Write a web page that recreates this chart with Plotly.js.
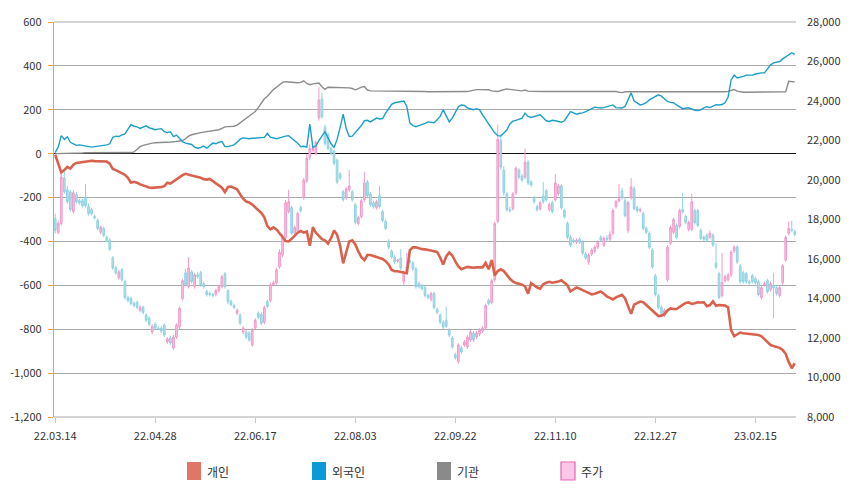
<!DOCTYPE html>
<html><head><meta charset="utf-8">
<script src="https://cdn.plot.ly/plotly-3.0.1.min.js"></script>
<style>html,body{margin:0;padding:0;background:#fff;}#chart{width:859px;height:493px;}</style>
</head><body><div id="chart"></div>
<script>
const tickLabels = ['22.03.14','22.04.28','22.06.17','22.08.03','22.09.22','22.11.10','22.12.27','23.02.15'];
const tickStep = 33;

const individual = [
-5,-50,-85,-75,-60,-68,-50,-42,-40,-38,
-35,-33,-32,-34,-35,-36,-34,-36,-45,-70,
-75,-82,-88,-96,-110,-132,-128,-132,-140,-145,
-150,-154,-156,-155,-155,-152,-148,-132,-136,-126,
-116,-104,-98,-92,-97,-100,-103,-105,-110,-116,
-118,-115,-125,-138,-145,-155,-175,-152,-150,-155,
-162,-185,-205,-218,-222,-232,-245,-258,-270,-290,
-330,-345,-336,-345,-365,-380,-398,-400,-388,-372,
-360,-352,-360,-355,-420,-335,-360,-375,-390,-395,
-410,-385,-350,-370,-420,-500,-450,-400,-395,-414,
-445,-472,-485,-462,-462,-466,-470,-473,-480,-490,
-505,-530,-536,-536,-538,-541,-545,-440,-427,-427,
-432,-435,-436,-440,-441,-445,-448,-473,-505,-468,
-450,-464,-491,-514,-527,-520,-516,-518,-520,-518,
-519,-518,-498,-527,-485,-555,-535,-527,-535,-555,
-570,-582,-590,-593,-597,-605,-638,-590,-600,-610,
-615,-595,-588,-584,-588,-586,-583,-577,-588,-600,
-628,-620,-610,-615,-622,-630,-635,-641,-638,-633,
-628,-638,-650,-657,-664,-655,-650,-643,-660,-700,
-730,-688,-680,-674,-677,-690,-700,-712,-725,-740,
-738,-732,-715,-705,-708,-708,-698,-688,-680,-678,
-685,-682,-677,-678,-677,-695,-690,-673,-693,-690,
-690,-692,-700,-805,-832,-825,-815,-818,-820,-820,
-823,-825,-826,-832,-845,-858,-872,-876,-880,-885,
-895,-912,-950,-978,-955];

const foreign = [
5,30,82,65,77,52,45,38,40,38,
34,32,30,32,35,36,38,40,45,75,
80,78,86,90,110,132,125,122,115,122,
127,118,112,109,112,114,100,96,100,78,
85,70,55,48,45,42,30,25,28,35,
25,38,48,45,52,55,32,32,36,40,
52,66,72,70,68,70,72,73,73,74,
92,75,73,68,72,77,80,82,72,60,
48,32,34,30,135,28,35,60,80,100,
72,45,28,65,120,180,115,78,80,95,
110,128,150,152,145,155,162,158,160,185,
205,225,232,235,236,240,215,140,128,123,
128,132,138,145,142,141,155,170,200,175,
145,162,185,214,222,220,209,203,200,205,
200,177,158,138,115,95,82,80,92,108,
135,148,152,156,162,185,170,165,168,172,
177,164,150,147,152,150,145,143,150,170,
192,186,180,184,186,192,200,206,212,210,
208,210,213,216,222,210,208,208,215,245,
277,240,230,222,226,232,245,252,259,268,
262,252,238,234,232,222,212,205,207,209,
204,198,196,200,209,214,210,218,223,222,
224,232,258,336,358,345,348,352,358,357,
358,363,367,368,368,385,405,414,416,420,
432,442,450,460,452];

const institution = [
0,0,1,2,2,3,3,3,3,3,
4,4,3,3,3,4,5,5,4,4,
4,4,5,5,5,5,8,20,32,38,
42,46,48,50,50,51,52,52,53,54,
55,56,60,68,80,86,90,94,96,98,
100,101,103,106,109,115,122,123,124,125,
130,140,150,160,170,180,192,210,232,250,
262,278,292,303,315,325,328,327,324,323,
323,325,332,320,314,318,320,322,305,293,
303,303,300,300,300,300,300,300,297,291,
296,303,306,290,286,286,285,285,285,285,
284,284,284,284,284,283,283,283,283,283,
283,283,283,282,282,282,282,282,282,282,
282,282,282,282,282,282,283,286,290,292,
292,292,292,291,286,283,283,288,293,295,
293,292,291,290,286,290,285,284,283,283,
283,283,283,283,283,283,283,283,283,283,
283,283,283,283,283,283,283,283,283,283,
283,283,284,285,286,284,280,278,282,282,
282,282,281,281,281,280,280,280,280,280,
280,280,280,280,280,280,280,280,280,280,
280,280,280,280,280,280,280,280,280,281,
281,282,284,288,292,285,281,280,280,280,
280,280,280,280,280,280,280,280,280,280,
280,282,330,328,327];

const priceOpen = [
18050,17350,17800,20100,19500,19400,18400,19250,18950,18950,
19100,18650,18500,18150,17950,17350,17550,17100,16950,16050,
15550,15050,15450,14850,14050,14000,13750,13800,13400,13550,
13150,13000,12300,12700,12500,12500,12650,11800,12000,11500,
12050,12550,14000,15300,14600,15350,14600,15200,15300,14750,
14350,14250,14200,14200,14400,14600,15250,14400,13850,13650,
13250,13150,12300,12300,12250,11650,12500,13250,13200,12800,
13850,13900,14700,14800,15600,16200,17100,18400,18600,17300,
17400,18600,19100,19950,21150,21500,21350,23150,24100,22650,
22300,21600,21450,21000,20300,19400,19100,19500,19400,18750,
17800,18150,19000,19900,19300,18850,18600,19200,18400,17900,
16900,16400,16100,15900,16050,14850,15350,15900,15800,15500,
14750,14650,14550,14150,13950,14250,13450,13150,12800,12900,
12400,12000,11150,10800,11500,11650,11550,11900,12250,12050,
12200,12350,12500,13900,13800,14950,17900,22000,20500,19300,
18500,18550,19350,20500,20200,20150,20900,19900,19100,18650,
18550,19200,19450,18500,18850,19000,19300,19700,18450,17800,
17100,16950,16850,17000,16850,16250,15850,16250,16400,16600,
17100,16700,17050,17000,17300,18650,18950,19450,18950,17450,
19100,19550,18600,18450,18300,17550,17300,16450,15150,14150,
13550,13150,14950,16800,17350,17700,17650,18500,18150,17500,
17500,18450,18450,17450,17100,17200,17100,17200,15800,15250,
14150,14900,14950,15200,16400,16600,15650,15300,15250,14850,
15150,15000,14850,14050,14700,14900,14450,14650,14550,14150,
14800,15950,17300,17500,17400];

const priceHigh = [
18300,17950,20450,20500,19700,19500,19500,19400,19050,19050,
19800,18800,18600,18250,18050,17700,17650,17200,17050,16150,
15650,15450,15550,14950,14150,14100,13850,13900,13650,13650,
13250,13100,12700,12800,12600,12600,12750,12050,12100,12150,
12750,13600,15000,15500,16100,15450,15300,15350,15400,14850,
14450,14350,14300,14500,14700,15200,15350,14450,13950,13750,
13500,13250,12600,12400,12350,12500,13000,13350,13300,13650,
13950,14800,14900,15550,16500,17250,19000,19500,18700,17700,
18400,18700,20100,21300,21800,21750,22000,24700,24400,22800,
22400,21700,21550,21100,20400,19500,19650,20500,19500,18850,
18200,19050,20400,20000,19400,18950,19000,19700,18500,18000,
17000,16500,16200,16000,16500,15400,16300,16000,15900,15600,
14850,14750,14650,14250,14350,14350,13550,13250,12900,13600,
12500,12100,11250,11750,11600,11900,12150,12400,12350,12350,
12500,12600,13750,14000,15000,17900,22800,22300,20700,19400,
18650,19400,20700,20600,20300,21600,21000,20000,19200,18750,
18950,19900,19550,18850,18950,20300,19800,19800,18550,17900,
17200,17050,17050,17100,16950,16350,16300,16550,16700,16950,
17200,17150,17200,17400,18550,19000,19800,19600,19100,18950,
20100,19700,18700,18600,18400,17650,17400,16550,15250,14250,
13650,13500,16700,17700,18100,17800,18550,19350,18250,17950,
19300,18550,18550,17550,17200,17300,17450,17300,16800,15350,
16300,15200,15300,16450,16700,16700,15750,15400,15350,14950,
15250,15100,14950,14650,14850,15000,14850,15300,14650,14650,
15750,17200,17900,17950,17500];

const priceLow = [
17300,17250,17700,19300,18800,18400,18300,18800,18750,18600,
18600,18200,18200,18000,17450,17250,17100,16850,16400,15450,
15200,14950,14850,13950,13800,13650,13550,13450,13300,13200,
12800,12600,12200,12400,12400,12250,12050,11700,11650,11400,
11950,12450,13900,14600,14500,14750,14500,15000,14600,14500,
14100,14100,14050,14100,14300,14500,14500,13700,13600,13450,
13150,12650,12200,11950,11800,11550,12400,12950,12650,12700,
13500,13800,14600,14700,15500,16100,17000,18300,17200,17200,
17300,18350,19000,19850,21000,21400,21250,23000,23100,21750,
21500,21250,20750,19800,20000,18900,19000,19400,18900,17750,
17700,18050,18900,19100,18650,18550,18500,18550,17850,17450,
16500,16000,15750,15800,15450,14650,15250,15750,15400,14500,
14500,14400,14050,13950,13850,13450,13200,12700,12450,12500,
12050,11450,10900,10700,11200,11550,11450,11800,11800,11950,
12100,12250,12400,13650,13700,14850,17800,20500,19200,18400,
18350,18450,19250,20050,19900,20050,19750,19650,18800,18400,
18450,18800,18900,18400,18300,18900,19200,18500,18050,17000,
16600,16800,16750,16750,16200,15950,15700,16150,16300,16500,
16850,16600,16900,16900,17200,18550,18850,19000,18100,17300,
19000,18450,18350,18350,17450,17250,16500,15500,14100,13450,
13150,13050,14850,16700,17250,17000,17550,18300,17750,17400,
17400,17750,17600,16950,16900,16850,17000,16600,15500,13950,
14050,14800,14850,15100,16300,15750,14750,14750,14750,14700,
14750,14700,14100,13950,14600,14250,14350,13000,14150,14050,
14700,15850,17200,17350,17150];

const priceClose = [
17450,17800,20150,19400,18900,18500,19350,18900,18850,18700,
18700,18300,18300,18100,17550,17600,17200,16950,16500,15550,
15300,15350,14950,14050,13900,13750,13650,13550,13550,13300,
12900,12700,12600,12500,12480,12350,12150,11950,11750,12050,
12650,13500,14900,14700,15550,14850,15200,15100,14700,14600,
14200,14200,14150,14400,14600,15100,14600,13850,13700,13550,
13400,12750,12500,12050,11900,12400,12900,13050,12750,13550,
13600,14700,14800,15450,16350,17100,18850,18900,17300,17600,
18300,18450,20000,21100,21600,21600,21900,24050,23200,21850,
21600,21350,20850,19900,20100,19000,19550,19700,19000,17850,
18100,18950,19850,19200,18750,18650,18900,18650,17950,17550,
16600,16100,15850,15950,15550,15300,15600,15850,15500,14600,
14600,14500,14150,14050,14250,13550,13300,12800,12550,12600,
12150,11550,11000,11650,11300,11800,12050,12300,11900,12250,
12400,12500,13650,13750,14900,17800,22050,20650,19350,18500,
18450,19300,20600,20150,20000,20900,19850,19750,18900,18500,
18850,18900,19000,18750,18400,19850,19700,18600,18150,17100,
16700,16900,16950,16850,16300,16050,16200,16450,16600,16850,
16950,17050,17000,17250,18450,18900,19050,19100,18200,18850,
19650,18550,18450,18500,17550,17350,16600,15600,14200,13550,
13250,13400,16600,17600,18000,17100,18450,18400,17850,17850,
18900,17850,17700,17050,17000,16950,17300,16700,15600,14050,
14800,15100,15200,16350,16600,15850,14850,14850,14850,14800,
14850,14800,14200,14550,14750,14350,14750,14550,14250,14550,
15650,17100,17550,17450,17250];

const leftTickVals = [600,400,200,0,-200,-400,-600,-800,-1000,-1200];
const leftTickText = ['600','400','200','0','-200','-400','-600','-800','-1,000','-1,200'];
const rightTickVals = [28000,26000,24000,22000,20000,18000,16000,14000,12000,10000,8000];
const rightTickText = ['28,000','26,000','24,000','22,000','20,000','18,000','16,000','14,000','12,000','10,000','8,000'];

const legendNames = ['개인','외국인','기관','주가'];
const legendColors = ['#e07665','#0a9bd6','#8a8a8a','#fcc6e6'];
const legendBorders = ['#e07665','#0a9bd6','#8a8a8a','#e266b5'];

const idx = priceClose.map((_, i) => i);
const FONT = '"Noto Sans CJK KR", "Noto Sans", sans-serif';
const GRID = '#a9a9a9';

const traces = [
  {type:'candlestick', x: idx, open: priceOpen, high: priceHigh, low: priceLow, close: priceClose,
   xaxis:'x', yaxis:'y', name:'주가', whiskerwidth:0, hoverinfo:'skip',
   increasing:{line:{color:'#f19acb', width:1}, fillcolor:'#f8c3df'},
   decreasing:{line:{color:'#8fd2e2', width:1}, fillcolor:'#b2e1eb'}},
  {type:'scatter', mode:'lines', x: idx, y: institution, yaxis:'y2', name:'기관',
   line:{color:'#8c8c8c', width:1.4}, hoverinfo:'skip'},
  {type:'scatter', mode:'lines', x: idx, y: foreign, yaxis:'y2', name:'외국인',
   line:{color:'#1c9dca', width:1.4}, hoverinfo:'skip'},
  {type:'scatter', mode:'lines', x: idx, y: individual, yaxis:'y2', name:'개인',
   line:{color:'#d9624f', width:2.6}, hoverinfo:'skip'}
];

const L = 54, R = 63, T = 22, B = 76, W = 859, H = 493;
const pw = W - L - R, ph = H - T - B;
const px2x = p => (p - L) / pw;
const py2y = p => (H - B - p) / ph;
const legendPx = [187, 312, 437, 561];

const shapes = [
  {type:'line', xref:'paper', yref:'paper', x0:0, x1:1, y0:1, y1:1, layer:'below', line:{color:GRID, width:1}},
  {type:'line', xref:'paper', yref:'paper', x0:0, x1:1, y0:0, y1:0, layer:'below', line:{color:GRID, width:1}}
];
const annotations = [];
legendNames.forEach((n, k) => {
  shapes.push({type:'rect', xref:'paper', yref:'paper',
    x0: px2x(legendPx[k]), x1: px2x(legendPx[k] + 14),
    y0: py2y(480), y1: py2y(462),
    fillcolor: legendColors[k], line:{color: legendBorders[k], width: k === 3 ? 1.2 : 0}});
  annotations.push({xref:'paper', yref:'paper', x: px2x(legendPx[k] + 18), y: py2y(471),
    xanchor:'left', yanchor:'middle', showarrow:false, text: n,
    font:{family: FONT, size: 12, color:'#333'}});
});

const layout = {
  width: W, height: H,
  margin: {l: L, r: R, t: T, b: B, pad: 0},
  paper_bgcolor:'#fff', plot_bgcolor:'#fff',
  showlegend:false,
  boxgap: 0.2,
  font:{family: FONT, size: 11, color:'#333'},
  xaxis:{range:[-0.4, 244.4], tickvals: tickLabels.map((_, k) => k * tickStep), ticktext: tickLabels,
    ticks:'outside', ticklen:5, tickcolor:'#c8c8c8', showgrid:false, zeroline:false, showline:false,
    rangeslider:{visible:false}, ticklabelstandoff:4, tickfont:{family: FONT, size:11, color:'#333'}},
  yaxis:{side:'right', range:[8000, 28000], tickvals: rightTickVals, ticktext: rightTickText,
    showgrid:false, zeroline:false, showline:false, ticks:'', ticklabelstandoff:10,
    tickfont:{family: FONT, size:11, color:'#333'}},
  yaxis2:{overlaying:'y', side:'left', range:[-1200, 600], tickvals: leftTickVals, ticktext: leftTickText,
    showgrid:true, gridcolor:GRID, gridwidth:1, zeroline:true, zerolinecolor:'#111', zerolinewidth:1.2,
    showline:true, linecolor:'#f0a23a', linewidth:1.2, ticks:'outside', ticklen:5, tickcolor:'#f0a23a',
    ticklabelstandoff:4, tickfont:{family: FONT, size:11, color:'#333'}},
  shapes: shapes,
  annotations: annotations
};

Plotly.newPlot('chart', traces, layout, {displayModeBar:false, staticPlot:true});
</script>
</body></html>
